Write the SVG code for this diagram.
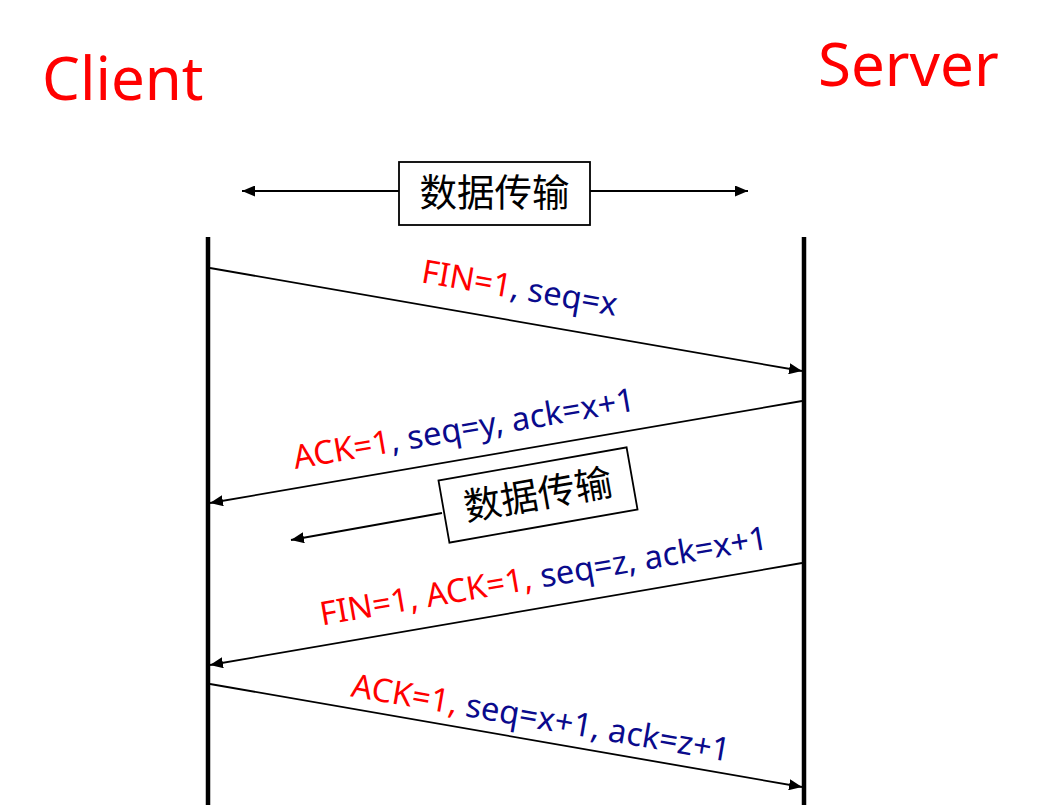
<svg xmlns="http://www.w3.org/2000/svg" width="1046" height="805" viewBox="0 0 1046 805">
<defs>
<style>
.title{font-family:"Noto Sans","Liberation Sans",sans-serif;font-size:60px;fill:#FF0000}
.lbl{font-family:"Noto Sans","Liberation Sans",sans-serif;font-size:32.7px;text-anchor:middle}
.r{fill:#FF0000}
.b{fill:#0A0A8C}
.cjk{font-family:"Noto Sans CJK SC","Noto Sans",sans-serif;font-size:37.5px;fill:#000;text-anchor:middle}
.box{fill:#fff;stroke:#000;stroke-width:1.8}
.life{stroke:#000;stroke-width:4.5}
.msg{stroke:#000;stroke-width:1.8;fill:none;marker-end:url(#ah)}
</style>
<marker id="ah" markerUnits="userSpaceOnUse" markerWidth="13" markerHeight="11" refX="13" refY="5.5" orient="auto">
<path d="M0,0 L13,5.5 L0,11 z" fill="#000"/>
</marker>
</defs>
<rect width="1046" height="805" fill="#fff"/>
<g id="client"><text class="title" x="42" y="100">Client</text></g>
<g id="server"><text class="title" x="818" y="86">Server</text></g>
<g id="lifelines">
<line class="life" x1="208" y1="237" x2="208" y2="805"/>
<line class="life" x1="804" y1="237" x2="804" y2="805"/>
</g>
<g id="connectors">
<line class="msg" x1="399" y1="191" x2="242" y2="191"/>
<line class="msg" x1="590" y1="191" x2="748" y2="191"/>
<line class="msg" x1="210" y1="268" x2="802" y2="371"/>
<line class="msg" x1="802" y1="401" x2="210" y2="503"/>
<line class="msg" x1="442" y1="513" x2="291" y2="540"/>
<line class="msg" x1="802" y1="563" x2="210" y2="665"/>
<line class="msg" x1="210" y1="684" x2="802" y2="787"/>
</g>
<g id="data-top">
<rect class="box" x="399" y="162" width="191" height="63"/>
<text class="cjk" x="494.5" y="206">数据传输</text>
</g>
<g id="data-mid" transform="translate(538,495) rotate(-10)">
<rect class="box" x="-95.5" y="-31.5" width="191" height="63"/>
<text class="cjk" x="0" y="13">数据传输</text>
</g>
<g id="label1" transform="translate(514,320.8) rotate(9.85)">
<text class="lbl" x="0" y="-22"><tspan class="r">FIN=1</tspan><tspan class="b">, seq=x</tspan></text>
</g>
<g id="label2" transform="translate(469,458.4) rotate(-9.76)">
<text class="lbl" x="0" y="-19"><tspan class="r">ACK=1</tspan><tspan class="b">, seq=y, ack=x+1</tspan></text>
</g>
<g id="label3" transform="translate(549,606.7) rotate(-9.76)">
<text class="lbl" x="0" y="-20"><tspan class="r">FIN=1, ACK=1,</tspan><tspan class="b"> seq=z, ack=x+1</tspan></text>
</g>
<g id="label4" transform="translate(537,740.8) rotate(9.85)">
<text class="lbl" x="0" y="-12"><tspan class="r">ACK=1,</tspan><tspan class="b"> seq=x+1, ack=z+1</tspan></text>
</g>
</svg>
